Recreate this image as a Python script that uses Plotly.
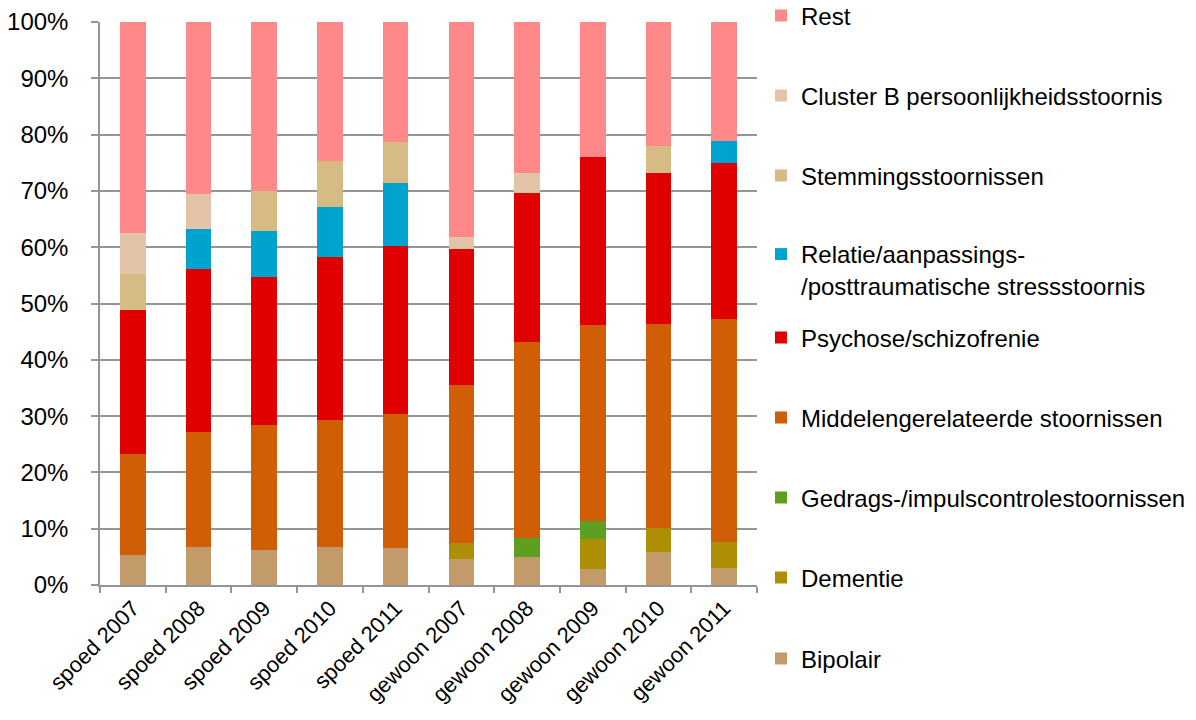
import plotly.graph_objects as go

categories = ["spoed 2007", "spoed 2008", "spoed 2009", "spoed 2010", "spoed 2011",
              "gewoon 2007", "gewoon 2008", "gewoon 2009", "gewoon 2010", "gewoon 2011"]

# values in percent (100% stacked), bottom to top
bipolair    = [5.3, 6.8, 6.2, 6.8, 6.6, 4.7, 4.9, 2.8, 5.8, 3.0]
dementie    = [0.0, 0.0, 0.0, 0.0, 0.0, 2.8, 0.0, 5.4, 4.3, 4.6]
gedrags     = [0.0, 0.0, 0.0, 0.0, 0.0, 0.0, 3.5, 3.1, 0.0, 0.0]
middelen    = [17.9, 20.3, 22.2, 22.5, 23.7, 28.0, 34.7, 34.9, 36.2, 39.6]
psychose    = [25.6, 29.1, 26.3, 28.9, 29.9, 24.1, 26.6, 29.8, 26.8, 27.8]
relatie     = [0.0, 7.0, 8.2, 8.9, 11.2, 0.0, 0.0, 0.0, 0.0, 3.8]
stemming    = [6.5, 0.0, 7.0, 8.3, 7.2, 0.0, 0.0, 0.0, 4.8, 0.0]
cluster_b   = [7.2, 6.3, 0.0, 0.0, 0.0, 2.3, 3.4, 0.0, 0.0, 0.0]
rest        = [37.5, 30.5, 30.1, 24.6, 21.4, 38.1, 26.9, 24.0, 22.1, 21.2]

series_names = ["Bipolair", "Dementie", "Gedrags-/impulscontrolestoornissen",
                "Middelengerelateerde stoornissen", "Psychose/schizofrenie",
                "Relatie/aanpassings-<br>/posttraumatische stressstoornis",
                "Stemmingsstoornissen", "Cluster B persoonlijkheidsstoornis", "Rest"]
series_values = [bipolair, dementie, gedrags, middelen, psychose, relatie,
                 stemming, cluster_b, rest]
series_colors = ["#C39A69", "#AE8E05", "#5E9E21", "#D05E07", "#E00000",
                 "#00A2CE", "#D6BB85", "#E4C4A6", "#FF8888"]

FONT = "Arial, 'Liberation Sans', sans-serif"

# layout geometry (pixels; page body margin is removed so figure = screen coords)
W, H = 1196, 720
ML, MR, MT, MB = 100, 439, 22, 135
plot_h = H - MT - MB
plot_w = W - ML - MR

# legend item centre (pixels from top of figure), Bipolair ... Rest
legend_centers = [659, 578, 498, 418, 338, 270, 176, 96, 16]
legend_left_px = 761

fig = go.Figure()
layout_legends = {}
for i, (name, vals, col) in enumerate(zip(series_names, series_values, series_colors)):
    lname = "legend" if i == 0 else f"legend{i+1}"
    fig.add_trace(go.Bar(
        x=categories, y=vals, name=name,
        marker=dict(color=col, line=dict(width=0)),
        legend=lname,
    ))
    ypix = legend_centers[i]
    yp = (H - MB - ypix) / plot_h
    layout_legends[lname] = dict(
        x=(legend_left_px - ML) / plot_w, xanchor="left", y=yp, yanchor="middle",
        font=dict(family=FONT, size=24, color="#000000"),
        bgcolor="rgba(0,0,0,0)", borderwidth=0,
        valign="top" if "<br>" in name else "middle",
    )

fig.update_layout(
    barmode="stack",
    bargap=0.61,
    width=W, height=H,
    margin=dict(l=ML, r=MR, t=MT, b=MB, pad=0, autoexpand=False),
    plot_bgcolor="white", paper_bgcolor="white",
    font=dict(family=FONT, color="#000000"),
    showlegend=True,
    **layout_legends,
)

fig.update_yaxes(
    range=[0, 100], dtick=10, ticksuffix="%",
    showgrid=True, gridcolor="#959595", gridwidth=1.5,
    showline=True, linecolor="#959595", linewidth=1.5,
    ticks="outside", ticklen=7, tickcolor="#959595", tickwidth=1.5,
    ticklabelstandoff=18, automargin=False,
    tickfont=dict(family=FONT, size=24, color="#000000"),
    zeroline=False,
)
fig.update_xaxes(
    showline=True, linecolor="#959595", linewidth=1.5,
    ticks="outside", ticklen=6, tickcolor="#959595", tickwidth=1.5,
    tickson="boundaries", tickangle=-45, automargin=False,
    tickfont=dict(family=FONT, size=22, color="#000000"),
    showgrid=False,
)

fig.write_html("out.html", config={"displayModeBar": False},
               post_script="document.body.style.margin='0';")
